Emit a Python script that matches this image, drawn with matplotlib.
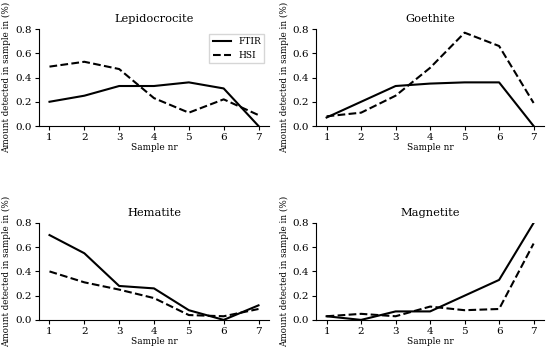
import matplotlib
matplotlib.use("Agg")
import matplotlib.pyplot as plt

samples = [1, 2, 3, 4, 5, 6, 7]
minerals = ["Lepidocrocite", "Goethite", "Hematite", "Magnetite"]

ftir_lepidocrocite = [0.20, 0.25, 0.33, 0.33, 0.36, 0.31, 0.0]
hsi_lepidocrocite = [0.49, 0.53, 0.47, 0.23, 0.11, 0.22, 0.09]
ftir_goethite = [0.07, 0.20, 0.33, 0.35, 0.36, 0.36, 0.0]
hsi_goethite = [0.08, 0.11, 0.25, 0.48, 0.77, 0.66, 0.19]
ftir_hematite = [0.70, 0.55, 0.28, 0.26, 0.08, 0.0, 0.12]
hsi_hematite = [0.40, 0.31, 0.25, 0.18, 0.04, 0.03, 0.09]
ftir_magnetite = [0.03, 0.0, 0.07, 0.07, 0.20, 0.33, 0.80]
hsi_magnetite = [0.03, 0.05, 0.03, 0.11, 0.08, 0.09, 0.63]

ftir = [ftir_lepidocrocite, ftir_goethite, ftir_hematite, ftir_magnetite]
hsi = [hsi_lepidocrocite, hsi_goethite, hsi_hematite, hsi_magnetite]

plt.rcParams["font.family"] = "DejaVu Serif"

fig = plt.figure(figsize=(5.5, 3.5), dpi=100)
boxes = [
    (0.071, 0.640, 0.418, 0.277),
    (0.575, 0.640, 0.414, 0.277),
    (0.071, 0.086, 0.418, 0.277),
    (0.575, 0.086, 0.414, 0.277),
]

for i, name in enumerate(minerals):
    ax = fig.add_axes(boxes[i])
    ax.plot(samples, ftir[i], "k-", lw=1.5, label="FTIR")
    ax.plot(samples, hsi[i], "k--", lw=1.5, label="HSI")
    ax.set_ylim(0, 0.8)
    ax.set_xlim(0.7, 7.3)
    ax.set_xticks(samples)
    ax.set_yticks([0.0, 0.2, 0.4, 0.6, 0.8])
    ax.tick_params(labelsize=7.5, length=3, pad=2)
    ax.set_xlabel("Sample nr", fontsize=6.4, labelpad=1)
    ax.set_ylabel("Amount detected in sample in (%)", fontsize=6.3, labelpad=3)
    ax.set_title(name, fontsize=8.2, pad=5)
    ax.spines["top"].set_visible(False)
    ax.spines["right"].set_visible(False)
    if i == 0:
        ax.legend(loc="upper right", fontsize=6.5, fancybox=False,
                  edgecolor="0.8", bbox_to_anchor=(1.0, 1.0))

fig.savefig("out.png", dpi=100)
